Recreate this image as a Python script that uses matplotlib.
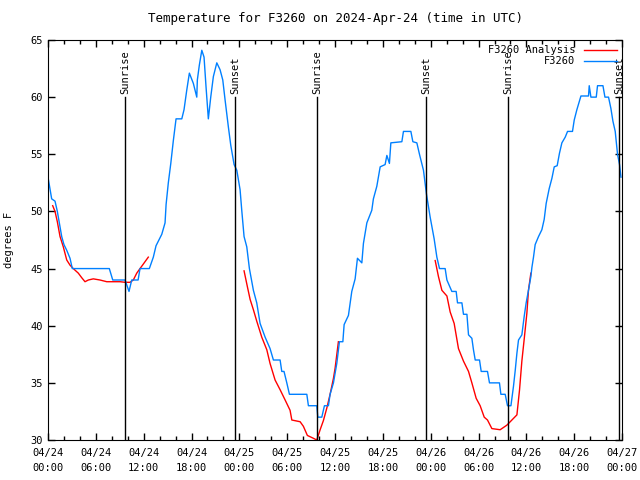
import numpy as np
import matplotlib
matplotlib.use("Agg")
import matplotlib.pyplot as plt

# hours since 04/24 00:00 UTC, temperature (degrees F)
obs_hours = [0.0, 0.46, 0.88, 1.17, 1.42, 1.72, 2.0, 2.35, 2.76, 3.05, 7.69, 8.12, 9.66, 10.16,
             10.5, 11.3, 11.54, 12.71, 13.21, 13.55, 14.27, 14.68, 14.81, 15.09, 15.4, 15.72,
             16.06, 16.78, 17.06, 17.4, 17.73, 18.23, 18.66, 18.73, 18.98, 19.29, 19.57, 19.82,
             20.11, 20.41, 20.74, 21.17, 21.58, 21.92, 22.21, 22.62, 22.92, 23.34, 23.68, 24.09,
             24.3, 24.59, 24.93, 25.26, 25.76, 26.18, 26.6, 27.23, 27.85, 28.27, 29.11, 29.32,
             29.6, 29.95, 30.28, 32.46, 32.66, 33.71, 33.84, 34.34, 34.67, 35.17, 35.38, 35.8,
             36.22, 36.55, 36.98, 37.14, 37.68, 38.1, 38.52, 38.81, 39.36, 39.56, 39.99, 40.61,
             40.81, 41.24, 41.66, 42.28, 42.5, 42.82, 43.0, 44.38, 44.58, 45.51, 45.76, 46.26,
             46.59, 47.09, 47.47, 47.93, 48.43, 48.77, 49.1, 49.81, 50.03, 50.65, 51.19, 51.36,
             51.91, 52.11, 52.54, 52.74, 53.16, 53.36, 53.58, 54.12, 54.33, 55.12, 55.37, 56.62,
             56.8, 57.34, 57.63, 58.06, 58.38, 58.6, 58.81, 59.01, 59.43, 59.72, 59.97, 60.26,
             60.56, 60.69, 60.89, 61.1, 61.52, 61.94, 62.23, 62.48, 62.86, 63.2, 63.49, 63.86,
             64.15, 64.45, 64.87, 65.16, 65.78, 66.0, 66.33, 66.84, 67.79, 67.88, 68.09, 68.76,
             68.92, 69.6, 69.85, 70.3, 70.6, 70.85, 71.14, 71.43, 71.68, 71.86]
obs_temp = [53.0, 51.1, 50.9, 50.0, 49.0, 47.8, 47.1, 46.6, 45.9, 45.0, 45.0, 44.0, 44.0, 43.0,
            44.0, 44.0, 45.0, 45.0, 46.0, 47.0, 48.0, 49.0, 50.6, 52.5, 54.2, 56.2,
            58.1, 58.1, 58.9, 60.6, 62.1, 61.2, 60.0, 61.5, 62.8, 64.1, 63.5, 60.9,
            58.1, 60.0, 61.8, 63.0, 62.4, 61.5, 59.75, 57.4, 55.8, 54.1, 53.6, 51.9,
            50.1, 47.8, 46.9, 45.0, 43.1, 42.0, 40.2, 39.0, 38.0, 37.0, 37.0, 36.0,
            36.0, 35.0, 34.0, 34.0, 33.0, 33.0, 32.0, 32.0, 33.0, 33.0, 34.0, 35.0,
            36.7, 38.6, 38.6, 40.1, 40.9, 43.0, 44.1, 45.9, 45.5, 47.2, 49.0, 50.1,
            51.1, 52.2, 53.9, 54.1, 54.9, 54.2, 56.0, 56.1, 57.0, 57.0, 56.1, 56.0,
            55.0, 53.6, 51.5, 49.5, 47.6, 46.0, 45.0, 45.0, 44.0, 43.0, 43.0, 42.0,
            42.0, 41.0, 41.0, 39.2, 38.9, 37.9, 37.0, 37.0, 36.0, 36.0, 35.0, 35.0,
            34.0, 34.0, 33.0, 33.0, 34.7, 36.1, 37.6, 38.75, 39.2, 40.8, 42.0, 43.1,
            44.3, 45.1, 46.0, 47.1, 47.8, 48.4, 49.3, 50.7, 52.0, 52.9, 53.9, 54.0,
            55.1, 56.0, 56.5, 57.0, 57.0, 58.0, 58.9, 60.1, 60.1, 61.0, 60.0, 60.0,
            61.0, 61.0, 60.0, 60.0, 59.0, 57.9, 57.0, 55.0, 54.1, 53.0]

# analysis series, three separate pieces
ana1_hours = [0.59, 0.88, 1.17, 1.51, 1.92, 2.35, 2.76, 3.17, 3.8, 4.23, 4.64, 5.06, 5.68,
              6.52, 7.37, 9.03, 9.66, 10.29, 10.7, 11.13, 11.54, 11.96, 12.58]
ana1_temp = [50.5, 50.0, 49.1, 47.8, 46.9, 45.75, 45.3, 45.0, 44.6, 44.2, 43.85, 44.0, 44.1,
             44.0, 43.85, 43.85, 43.8, 43.8, 44.0, 44.6, 45.0, 45.4, 46.0]
ana2_hours = [24.59, 25.01, 25.35, 25.76, 26.18, 26.81, 27.44, 27.85, 28.48, 29.11, 29.74,
              30.36, 30.58, 31.62, 32.03, 32.53, 33.29, 33.71, 34.13, 34.54, 34.97, 35.38,
              35.8, 36.01, 36.42]
ana2_temp = [44.8, 43.4, 42.3, 41.4, 40.4, 39.0, 37.9, 36.7, 35.25, 34.4, 33.5,
             32.6, 31.75, 31.6, 31.2, 30.4, 30.15, 30.0, 30.9, 31.7, 32.8, 34.0,
             35.4, 36.3, 38.6]
ana3_hours = [48.56, 48.97, 49.4, 50.03, 50.44, 50.94, 51.48, 52.11, 52.74, 53.16, 53.7,
              54.2, 54.71, 55.12, 55.67, 56.71, 57.55, 58.18, 58.81, 59.14, 59.43, 59.72,
              60.06, 60.26, 60.56]
ana3_temp = [45.7, 44.3, 43.1, 42.6, 41.2, 40.2, 38.0, 36.9, 36.0, 35.0, 33.65,
             33.0, 32.0, 31.75, 31.0, 30.9, 31.3, 31.75, 32.2, 34.4, 36.9, 38.8,
             41.1, 43.1, 44.6]

sun_hours = [9.66, 23.46, 33.75, 47.43, 57.72, 71.64]
sun_names = ["Sunrise", "Sunset", "Sunrise", "Sunset", "Sunrise", "Sunset"]

tick_labels = ["04/24\n00:00", "04/24\n06:00", "04/24\n12:00", "04/24\n18:00",
               "04/25\n00:00", "04/25\n06:00", "04/25\n12:00", "04/25\n18:00",
               "04/26\n00:00", "04/26\n06:00", "04/26\n12:00", "04/26\n18:00",
               "04/27\n00:00"]

plt.rcParams['font.family'] = 'DejaVu Sans Mono'
plt.rcParams['font.size'] = 7.5

fig = plt.figure(figsize=(6.4, 4.8), dpi=100)
ax = fig.add_axes([0.075, 0.0833, 0.897, 0.8334])

red = "#ff0000"
blue = "#0080ff"

ax.plot(ana1_hours, ana1_temp, color=red, lw=1, label="F3260 Analysis")
ax.plot(ana2_hours, ana2_temp, color=red, lw=1)
ax.plot(ana3_hours, ana3_temp, color=red, lw=1)
ax.plot(obs_hours, obs_temp, color=blue, lw=1, label="F3260")

for h, name in zip(sun_hours, sun_names):
    ax.plot([h, h], [30, 60], color="black", lw=1)
    ax.text(h, 60.3, name, rotation=90, ha="center", va="bottom")

ax.set_xlim(0, 72)
ax.set_ylim(30, 65)
ax.set_xticks(np.arange(0, 73, 6))
ax.set_xticklabels(tick_labels, linespacing=1.6)
ax.set_xticks(np.arange(0, 73, 2), minor=True)
ax.set_yticks(np.arange(30, 66, 5))
ax.tick_params(direction="in", top=True, right=True, length=5, width=1)
ax.tick_params(which="minor", direction="in", top=True, length=3, width=1)
ax.tick_params(axis="x", pad=6)

ax.set_ylabel("degrees F", labelpad=12)
ax.set_title("Temperature for F3260 on 2024-Apr-24 (time in UTC)", pad=13)

ax.legend(loc="upper right", frameon=False, markerfirst=False, handlelength=3.2,
          borderaxespad=0.1, labelspacing=0.1)

plt.savefig("out.png", dpi=100)
